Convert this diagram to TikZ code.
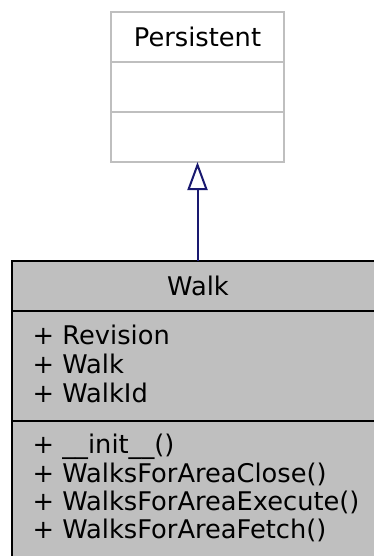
\documentclass[tikz,border=0pt]{standalone}
\usepackage{fontspec}
\setmainfont{DejaVu Sans}
\usetikzlibrary{arrows.meta}
\definecolor{partgray}{HTML}{BFBFBF}
\definecolor{edgeblue}{HTML}{191970}
\tikzstyle{basepart}=[draw=partgray, fill=white, line width=2pt, minimum width=173pt, inner sep=0pt, outer sep=0pt, font=\fontsize{25.7}{29}\selectfont]
\tikzstyle{walkpart}=[draw=black, fill=partgray, line width=2pt, minimum width=378pt, inner sep=0pt, outer sep=0pt, font=\fontsize{25.7}{29}\selectfont]
\tikzstyle{member}=[anchor=base west, inner sep=0pt, font=\fontsize{25.7}{29}\selectfont]
\tikzstyle{inherit}=[draw=edgeblue, line width=2pt, -{Triangle[open, length=28pt, width=20pt, fill=white]}]

\begin{document}
\begin{tikzpicture}[x=1pt, y=-1pt]
	\useasboundingbox (0, 0) rectangle (373, 556);
	% base class
	\node [style=basepart, minimum height=50pt] (persName) at (197.5, 37) {Persistent};
	\node [style=basepart, minimum height=50pt] (persAttr) at (197.5, 87) {};
	\node [style=basepart, minimum height=50pt] (persOps) at (197.5, 137) {};
	% derived class
	\node [style=walkpart, minimum height=50pt] (walkName) at (201, 286) {};
	\node [style=walkpart, minimum height=110pt] (walkAttr) at (201, 366) {};
	\node [style=walkpart, minimum height=149pt] (walkOps) at (201, 495.5) {};
	\node (walkTitle) at (198, 286) [font=\fontsize{25.7}{29}\selectfont] {Walk};
	\node [style=member] (attrA) at (32.5, 344) {+ Revision};
	\node [style=member] (attrB) at (32.5, 373) {+ Walk};
	\node [style=member] (attrC) at (32.5, 402) {+ WalkId};
	\node [style=member] (opA) at (32.5, 453) {+ \_\_init\_\_()};
	\node [style=member] (opB) at (32.5, 482) {+ WalksForAreaClose()};
	\node [style=member] (opC) at (32.5, 510) {+ WalksForAreaExecute()};
	\node [style=member] (opD) at (32.5, 538) {+ WalksForAreaFetch()};
	% generalization
	\draw [style=inherit] (persOps.south |- walkName.north) to (persOps.south);
\end{tikzpicture}
\end{document}
